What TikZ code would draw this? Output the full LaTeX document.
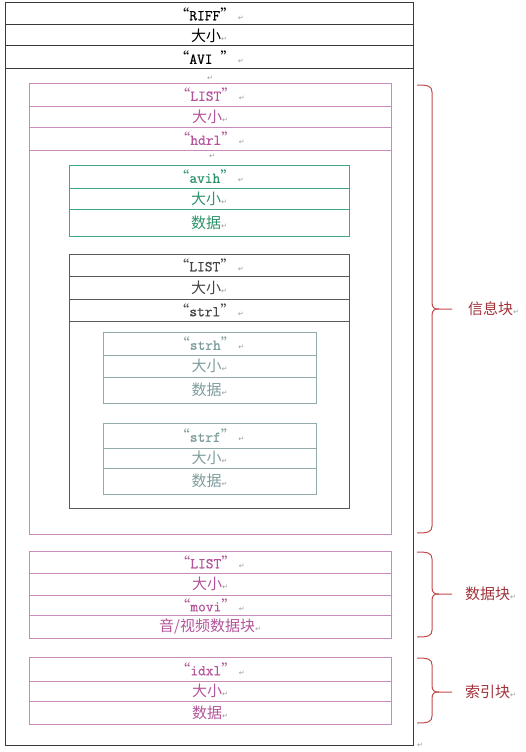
\documentclass[tikz,border=0pt]{standalone}
\usepackage{fontspec}
\setmainfont{Noto Sans CJK SC}
\newfontfamily\markfont{DejaVu Sans}
\newfontfamily\codefont[FakeBold=0.8]{Latin Modern Mono}
\usepackage{tikz}
\usetikzlibrary{positioning}

\definecolor{framegray}{HTML}{3A3A3A}
\definecolor{pinkline}{HTML}{C98BBB}
\definecolor{pinktext}{HTML}{B3549A}
\definecolor{greenline}{HTML}{3DA883}
\definecolor{greentext}{HTML}{2E936B}
\definecolor{strlline}{HTML}{5A5A5A}
\definecolor{strltext}{HTML}{444444}
\definecolor{tealline}{HTML}{93ABAB}
\definecolor{tealtext}{HTML}{7E9C9C}
\definecolor{bracered}{HTML}{C44A4A}
\definecolor{labelred}{HTML}{A3323A}
\definecolor{markgray}{HTML}{9A9A9A}

\newcommand{\pmark}{{\markfont\fontsize{7}{7}\selectfont\textcolor{markgray}{↵}}}
\newcommand{\fourcc}[1]{“{\codefont\fontsize{15}{17}\selectfont #1}”\,\pmark}
% brace on the right: top y, middle y, bottom y
\newcommand{\blockbrace}[3]{%
  \draw[bracestyle] (417,#1) .. controls (428,#1) and (432,#1+1) .. (432,#1+7)
    -- (432,#2-7) .. controls (432,#2-1) and (434,#2) .. (439,#2) -- (452,#2);
  \draw[bracestyle] (439,#2) .. controls (434,#2) and (432,#2+1) .. (432,#2+7)
    -- (432,#3-7) .. controls (432,#3-1) and (428,#3) .. (417,#3);}

\begin{document}
\begin{tikzpicture}[x=1pt, y=-1pt, font=\fontsize{15}{17}\selectfont,
  cell/.style={draw, inner sep=0pt, outer sep=0pt, line width=0.8pt},
  outerrow/.style={cell, draw=framegray, text=black, minimum width=408pt, line width=1pt},
  pinkrow/.style={cell, draw=pinkline, text=pinktext, minimum width=362pt},
  greenrow/.style={cell, draw=greenline, text=greentext, minimum width=280pt},
  strlrow/.style={cell, draw=strlline, text=strltext, minimum width=280pt},
  tealrow/.style={cell, draw=tealline, text=tealtext, minimum width=213pt},
  markpos/.style={inner sep=0pt},
  bracestyle/.style={draw=bracered, line width=1pt},
  bracelabel/.style={inner sep=0pt, text=labelred, anchor=west}]
\useasboundingbox (0,0) rectangle (525,752);

% RIFF header
\node[outerrow, anchor=north, minimum height=22pt] (riff) at (209,3) {\fourcc{RIFF}};
\node[outerrow, below=0pt of riff, minimum height=21pt] (riffsize) {大小\pmark};
\node[outerrow, below=0pt of riffsize, minimum height=23pt] (avi) {\fourcc{AVI\ }};
\draw[framegray, line width=1pt] (riff.north west) rectangle (413,745);
\node[markpos] (mark1) at (210,78) {\pmark};

% info block: LIST hdrl
\node[pinkrow, anchor=north, minimum height=23pt] (infolist) at (210,83) {\fourcc{LIST}};
\node[pinkrow, below=0pt of infolist, minimum height=21pt] (infosize) {大小\pmark};
\node[pinkrow, below=0pt of infosize, minimum height=23pt] (hdrl) {\fourcc{hdrl}};
\draw[pinkline, line width=0.8pt] (infolist.north west) rectangle (391,534);
\node[markpos] (mark2) at (212,156) {\pmark};

% avih
\node[greenrow, anchor=north, minimum height=23pt] (avih) at (209,165) {\fourcc{avih}};
\node[greenrow, below=0pt of avih, minimum height=21pt] (avihsize) {大小\pmark};
\node[greenrow, below=0pt of avihsize, minimum height=27pt] (avihdata) {数据\pmark};

% LIST strl
\node[strlrow, anchor=north, minimum height=22pt] (strllist) at (209,254) {\fourcc{LIST}};
\node[strlrow, below=0pt of strllist, minimum height=23pt] (strlsize) {大小\pmark};
\node[strlrow, below=0pt of strlsize, minimum height=22pt] (strl) {\fourcc{strl}};
\draw[strlline, line width=0.8pt] (strllist.north west) rectangle (349,508);

% strh
\node[tealrow, anchor=north, minimum height=23pt] (strh) at (209.5,332) {\fourcc{strh}};
\node[tealrow, below=0pt of strh, minimum height=22pt] (strhsize) {大小\pmark};
\node[tealrow, below=0pt of strhsize, minimum height=26pt] (strhdata) {数据\pmark};

% strf
\node[tealrow, anchor=north, minimum height=25pt] (strf) at (209.5,423) {\fourcc{strf}};
\node[tealrow, below=0pt of strf, minimum height=20pt] (strfsize) {大小\pmark};
\node[tealrow, below=0pt of strfsize, minimum height=26pt] (strfdata) {数据\pmark};

% data block: LIST movi
\node[pinkrow, anchor=north, minimum height=22pt] (datalist) at (210,551) {\fourcc{LIST}};
\node[pinkrow, below=0pt of datalist, minimum height=22pt] (datasize) {大小\pmark};
\node[pinkrow, below=0pt of datasize, minimum height=20pt] (movi) {\fourcc{movi}};
\node[pinkrow, below=0pt of movi, minimum height=23pt] (avdata) {音/视频数据块\pmark};

% index block
\node[pinkrow, anchor=north, minimum height=24pt] (idxl) at (210,657) {\fourcc{idxl}};
\node[pinkrow, below=0pt of idxl, minimum height=20pt] (idxlsize) {大小\pmark};
\node[pinkrow, below=0pt of idxlsize, minimum height=23pt] (idxldata) {数据\pmark};

\node[markpos] (endmark) at (420,745) {\pmark};

% braces and labels
\blockbrace{85}{309}{533}
\blockbrace{552}{594}{637}
\blockbrace{658}{692}{723}
\node[bracelabel] (infolabel) at (468,309) {信息块\pmark};
\node[bracelabel] (datalabel) at (465,594) {数据块\pmark};
\node[bracelabel] (idxlabel) at (465,692) {索引块\pmark};
\end{tikzpicture}
\end{document}
